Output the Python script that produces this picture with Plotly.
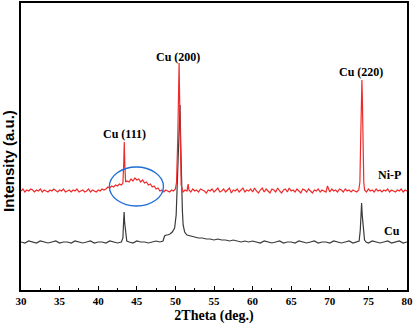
import plotly.graph_objects as go

# ---- Ni-P coating (red) ----
nip_x = [30.0, 30.25, 30.5, 30.75, 31.0, 31.25, 31.5, 31.75, 32.0, 32.25, 32.5, 32.75,
         33.0, 33.25, 33.5, 33.75, 34.0, 34.25, 34.5, 34.75, 35.0, 35.25, 35.5, 35.75,
         36.0, 36.25, 36.5, 36.75, 37.0, 37.25, 37.5, 37.75, 38.0, 38.25, 38.5, 38.75,
         39.0, 39.25, 39.5, 39.75, 40.0, 40.25, 40.5, 40.75,
         41.0, 41.25, 41.5, 41.75, 42.0, 42.25, 42.5, 42.75, 43.0, 43.2, 43.3, 43.38,
         43.45, 43.55, 43.75, 44.0, 44.25, 44.5, 44.75, 45.0, 45.25, 45.5, 45.75, 46.0,
         46.25, 46.5, 46.75, 47.0, 47.25, 47.5, 47.75, 48.0, 48.25, 48.5, 48.75, 49.0,
         49.25, 49.5, 49.75, 50.0, 50.15, 50.3, 50.42, 50.48, 50.55, 50.65, 50.75, 50.9,
         51.0, 51.25, 51.5, 51.65, 51.75,
         52.0, 52.25, 52.5, 52.75, 53.0, 53.25, 53.5, 53.75, 54.0, 54.25, 54.5, 54.75,
         55.0, 55.25, 55.5, 55.75, 56.0, 56.25, 56.5, 56.75, 57.0, 57.25, 57.5, 57.75,
         58.0, 58.25, 58.5, 58.75, 59.0, 59.25, 59.5, 59.75, 60.0, 60.25, 60.5, 60.75,
         61.0, 61.25, 61.5, 61.75, 62.0, 62.25, 62.5, 62.75, 63.0, 63.25, 63.5, 63.75,
         64.0, 64.25, 64.5, 64.75, 65.0, 65.25, 65.5, 65.75, 66.0, 66.25, 66.5, 66.75,
         67.0, 67.25, 67.5, 67.75, 68.0, 68.25, 68.5, 68.75, 69.0, 69.25, 69.5, 69.7,
         69.9, 70.0, 70.25, 70.5, 70.75, 71.0, 71.25, 71.5, 71.75, 72.0, 72.25, 72.5,
         72.75, 73.0, 73.25, 73.5, 73.75, 73.9, 74.0, 74.1, 74.16, 74.22, 74.3, 74.4,
         74.5, 74.75, 75.0, 75.25, 75.5, 75.75, 76.0, 76.25, 76.5, 76.75, 77.0, 77.25,
         77.5, 77.75, 78.0, 78.25, 78.5, 78.75, 79.0, 79.25, 79.5, 79.75, 80.0]
nip_y = [99, 101, 98, 100, 99, 101, 100, 98, 100, 99, 101, 98,
         100, 99, 98, 100, 99, 101, 99, 98, 100, 99, 101, 98,
         99, 100, 98, 100, 99, 101, 98, 99, 100, 98, 99, 101,
         98, 100, 99, 98, 100, 99, 101, 100,
         101, 103, 102, 104, 103, 105, 104, 106, 105, 107, 125, 148,
         125, 108, 109, 108, 111, 109, 112, 110, 111, 108, 110, 107,
         108, 105, 106, 103, 104, 101, 102, 99, 100, 98, 100, 99,
         98, 100, 99, 101, 108, 150, 200, 227, 190, 130, 105, 100,
         98, 100, 99, 106, 100,
         98, 101, 99, 100, 98, 101, 100, 99, 97, 100, 99, 101,
         98, 100, 102, 98, 99, 101, 98, 100, 102, 97, 100, 99,
         101, 98, 100, 102, 98, 100, 99, 101, 98, 102, 99, 97,
         100, 102, 98, 101, 99, 97, 101, 100, 98, 102, 99, 97,
         100, 101, 98, 102, 99, 100, 98, 101, 99, 97, 101, 100,
         98, 101, 99, 97, 100, 99, 101, 98, 100, 99, 98, 104,
         99, 98, 101, 99, 100, 98, 101, 100, 98, 101, 99, 100,
         98, 100, 99, 98, 100, 108, 150, 200, 210, 190, 140, 108,
         100, 98, 101, 99, 100, 98, 101, 99, 100, 98, 100, 99,
         101, 98, 100, 99, 98, 100, 99, 101, 98, 100, 99]

# ---- Cu substrate (dark grey) ----
cu_x = [30.0, 30.5, 31.0, 31.5, 32.0, 32.5, 33.0, 33.5, 34.0, 34.5, 35.0, 35.5,
        36.0, 36.5, 37.0, 37.5, 38.0, 38.5, 39.0, 39.5, 40.0, 40.5, 41.0, 41.5,
        42.0, 42.5, 43.0, 43.2, 43.3, 43.36, 43.42, 43.48, 43.55, 43.7, 44.0, 44.5,
        45.0, 45.5, 46.0, 46.5, 47.0, 47.5, 48.0, 48.4, 48.6, 48.8, 49.0, 49.3,
        49.6, 49.9, 50.1, 50.25, 50.4, 50.5, 50.6, 50.68, 50.75, 50.82, 50.9, 51.0,
        51.2, 51.5, 52.0, 52.5, 53.0, 53.5, 54.0, 54.5, 55.0, 55.5, 56.0, 56.5,
        57.0, 57.5, 58.0, 58.5, 59.0, 59.5, 60.0, 60.5, 61.0, 61.5, 62.0, 62.5,
        63.0, 63.5, 64.0, 64.5, 65.0, 65.5, 66.0, 66.5, 67.0, 67.5, 68.0, 68.5,
        69.0, 69.5, 70.0, 70.5, 71.0, 71.5, 72.0, 72.5, 73.0, 73.5, 73.8, 73.95,
        74.05, 74.12, 74.2, 74.28, 74.36, 74.5, 74.7, 75.0, 75.5, 76.0, 76.5, 77.0,
        77.5, 78.0, 78.5, 79.0, 79.5, 80.0]
cu_y = [48, 47, 49, 48, 47, 49, 48, 47, 48, 49, 47, 48,
        48, 47, 49, 48, 47, 48, 49, 47, 48, 48, 47, 49,
        48, 47, 48, 52, 70, 78, 68, 63, 56, 49, 48, 47,
        49, 48, 48, 47, 48, 49, 48, 49, 54, 55, 55, 56,
        58, 62, 75, 110, 160, 170, 185, 150, 123, 110, 80, 65,
        58, 55, 54, 53, 52, 52, 51, 51, 50, 51, 50, 50,
        49, 50, 49, 48, 49, 48, 49, 48, 47, 49, 48, 47,
        48, 49, 47, 48, 48, 47, 49, 48, 47, 48, 49, 47,
        48, 48, 47, 49, 48, 47, 48, 49, 47, 48, 49, 60,
        80, 87, 75, 67, 60, 50, 48, 47, 49, 48, 47, 48,
        49, 47, 48, 49, 47, 48]

# ---- annotations ----
label_text = ["Cu (111)", "Cu (200)", "Cu (220)", "Ni-P", "Cu"]
label_x = [43.4, 50.4, 74.1, 77.7, 78.0]
label_y = [156, 233, 218, 115, 59]

x_ticks = [30, 35, 40, 45, 50, 55, 60, 65, 70, 75, 80]

# amorphous hump marker (ellipse bounds in data units)
ell_x = [41.45, 48.45]
ell_y = [84, 123]

fig = go.Figure()
fig.add_trace(go.Scatter(x=cu_x, y=cu_y, mode="lines",
                         line=dict(color="#3a3a3a", width=1.2), showlegend=False))
fig.add_trace(go.Scatter(x=nip_x, y=nip_y, mode="lines",
                         line=dict(color="#f02a2a", width=1.2), showlegend=False))

for t, xx, yy in zip(label_text, label_x, label_y):
    fig.add_annotation(x=xx, y=yy, text=t, showarrow=False, xref="x", yref="y",
                       font=dict(family="Liberation Serif", size=12, color="black", weight="bold"))

# y-axis title (placed slightly below the axis centre, as in the reference)
fig.add_annotation(x=-0.031, y=0.45, xref="paper", yref="paper", text="Intensity (a.u.)",
                   textangle=-90, showarrow=False, xanchor="center", yanchor="middle",
                   font=dict(family="Liberation Sans", size=15, color="black", weight="bold"))

fig.add_shape(type="circle", xref="x", yref="y", x0=ell_x[0], x1=ell_x[1],
              y0=ell_y[0], y1=ell_y[1], line=dict(color="#1f6fd6", width=1.3))

fig.update_layout(
    width=413, height=329,
    margin=dict(l=21, r=6, t=3, b=39),
    paper_bgcolor="white", plot_bgcolor="white",
    xaxis=dict(range=[30, 80], tickvals=x_ticks, ticks="inside", ticklen=4, tickwidth=1.2,
               tickcolor="black", showline=True, linecolor="black", linewidth=2, mirror=True,
               showgrid=False, zeroline=False, automargin=False,
               minor=dict(dtick=2.5, ticks="inside", ticklen=2, tickcolor="black", tickwidth=1),
               tickfont=dict(family="Liberation Serif", size=11, color="black", weight="bold"),
               title=dict(text="2Theta (deg.)", standoff=4,
                          font=dict(family="Liberation Serif", size=14, color="black", weight="bold"))),
    yaxis=dict(range=[0, 287], showticklabels=False, ticks="", showline=True, linecolor="black",
               linewidth=2, mirror=True, showgrid=False, zeroline=False, automargin=False),
)

fig.write_html("out.html", post_script="document.body.style.margin='0';",
               config={"displayModeBar": False})
